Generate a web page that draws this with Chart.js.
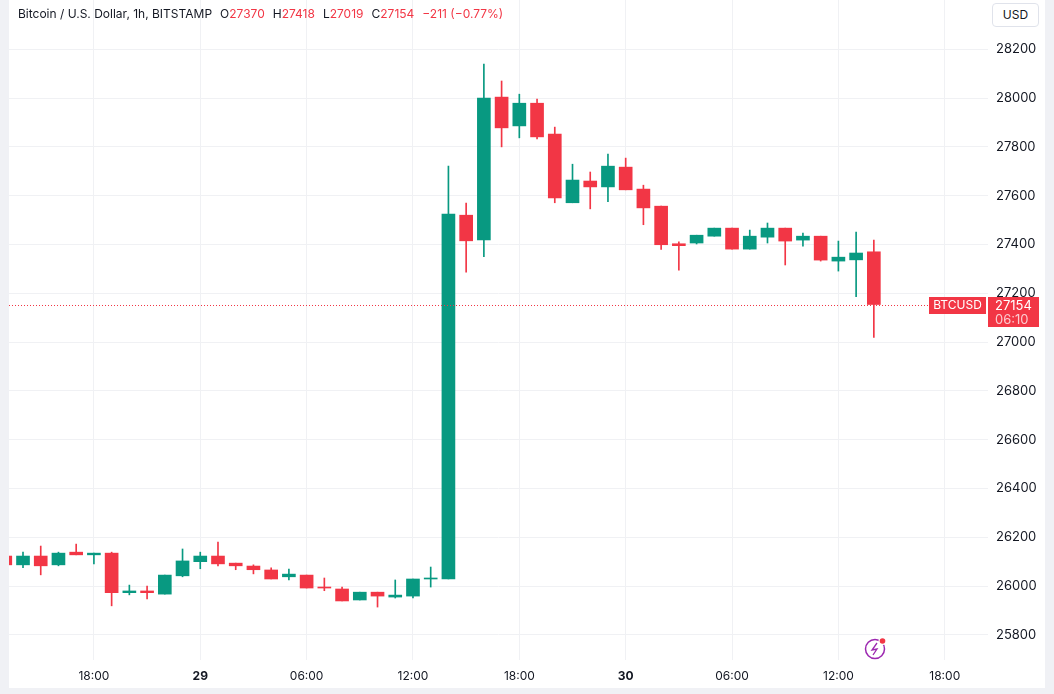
<!DOCTYPE html>
<html>
<head>
<meta charset="utf-8">
<script src="https://cdn.jsdelivr.net/npm/chart.js@4.4.1/dist/chart.umd.min.js"></script>
<style>
  html, body { margin: 0; padding: 0; }
  body { width: 1054px; height: 694px; background: #f0f1f5; position: relative; overflow: hidden; font-family: Inter, Roboto, sans-serif; }
  #panel { position: absolute; left: 9px; top: 0; width: 1036px; height: 688px; background: #fff; }
  #chart { position: absolute; left: 0; top: 0; }
  #legend { position: absolute; left: 18px; top: 6px; font-size: 12px; line-height: 16px; color: #131722; white-space: nowrap; }
  #legend .g { margin-left: 8px; }
  #legend .v { color: #f23645; }
  #usd { position: absolute; left: 992px; top: 3px; width: 47px; height: 24px; box-sizing: border-box; border: 1px solid #e0e3eb; border-radius: 4px; font-size: 12px; line-height: 22px; text-align: center; color: #131722; background: #fff; }
</style>
</head>
<body>
<div id="panel"></div>
<canvas id="chart" width="1054" height="694"></canvas>
<div id="legend">Bitcoin / U.S. Dollar, 1h, BITSTAMP<span class="g">O<span class="v">27370</span></span><span class="g">H<span class="v">27418</span></span><span class="g">L<span class="v">27019</span></span><span class="g">C<span class="v">27154</span></span><span class="g v">−211 (−0.77%)</span></div>
<div id="usd">USD</div>
<script>
// hours relative to 29 00:00
const hours  = [-11, -10, -9, -8, -7, -6, -5, -4, -3, -2, -1, 0, 1, 2, 3, 4, 5, 6, 7, 8, 9, 10, 11, 12, 13, 14, 15, 16, 17, 18, 19, 20, 21, 22, 23, 24, 25, 26, 27, 28, 29, 30, 31, 32, 33, 34, 35, 36, 37, 38];
const opens  = [26123, 26087, 26123, 26087, 26139, 26128, 26135, 25973, 25980, 25967, 26042, 26100, 26123, 26094, 26082, 26066, 26038, 26045, 25996, 25988, 25943, 25975, 25955, 25959, 26029, 26029, 27520, 27419, 28004, 27886, 27979, 27852, 27571, 27660, 27636, 27717, 27627, 27557, 27403, 27406, 27434, 27467, 27381, 27430, 27467, 27418, 27434, 27332, 27337, 27370];
const highs  = [26123, 26139, 26164, 26139, 26172, 26135, 26139, 26004, 26000, 26045, 26152, 26139, 26180, 26094, 26087, 26075, 26070, 26045, 26033, 25996, 25975, 25975, 26025, 26029, 26078, 27721, 27570, 28139, 28070, 28016, 27996, 27881, 27729, 27697, 27770, 27754, 27643, 27557, 27411, 27438, 27467, 27467, 27459, 27488, 27467, 27447, 27434, 27414, 27451, 27418];
const lows   = [26087, 26075, 26046, 26083, 26128, 26091, 25919, 25964, 25947, 25967, 26038, 26071, 26083, 26067, 26050, 26029, 26025, 25992, 25981, 25939, 25943, 25914, 25951, 25951, 25996, 26029, 27287, 27350, 27800, 27837, 27833, 27571, 27571, 27546, 27575, 27624, 27481, 27380, 27295, 27402, 27434, 27381, 27381, 27406, 27316, 27393, 27332, 27291, 27186, 27019];
const closes = [26087, 26123, 26083, 26135, 26128, 26135, 25973, 25980, 25973, 26045, 26103, 26123, 26091, 26083, 26067, 26029, 26049, 25992, 25992, 25939, 25975, 25959, 25963, 26029, 26033, 27525, 27415, 28000, 27878, 27979, 27841, 27591, 27664, 27636, 27721, 27624, 27550, 27399, 27395, 27438, 27467, 27381, 27434, 27467, 27414, 27434, 27336, 27348, 27365, 27154];

const priceTicks = [25800, 26000, 26200, 26400, 26600, 26800, 27000, 27200, 27400, 27600, 27800, 28000, 28200];
const timeTicks  = [-6, 0, 6, 12, 18, 24, 30, 36, 42];
const timeLabels = ['18:00', '29', '06:00', '12:00', '18:00', '30', '06:00', '12:00', '18:00'];
const dayLabels  = ['29', '30'];

const UP = '#089981';
const DOWN = '#f23645';
const TEXT = '#131722';
const GRID = '#f0f1f4';
const FONT = 'Inter, Roboto, sans-serif';

const candleColor = (ctx) => closes[ctx.dataIndex] >= opens[ctx.dataIndex] ? UP : DOWN;

const noPad = (s) => { s.paddingTop = 0; s.paddingBottom = 0; s.paddingLeft = 0; s.paddingRight = 0; };

const overlay = {
  id: 'overlay',
  afterDraw(chart) {
    const { ctx, chartArea, scales } = chart;
    const last = closes[closes.length - 1];
    const y = Math.round(scales.y.getPixelForValue(last));
    ctx.save();
    // last price dotted line
    ctx.strokeStyle = DOWN;
    ctx.lineWidth = 1;
    ctx.setLineDash([1, 2]);
    ctx.beginPath();
    ctx.moveTo(chartArea.left, y + 0.5);
    ctx.lineTo(chartArea.right - 60, y + 0.5);
    ctx.stroke();
    ctx.setLineDash([]);
    // symbol tag
    ctx.fillStyle = DOWN;
    ctx.fillRect(chartArea.right - 59, y - 8, 57, 17);
    ctx.fillStyle = '#fff';
    ctx.font = '12px ' + FONT;
    ctx.textBaseline = 'middle';
    ctx.textAlign = 'center';
    ctx.fillText('BTCUSD', chartArea.right - 30.5, y + 0.5);
    // price tag
    ctx.fillStyle = DOWN;
    ctx.fillRect(chartArea.right, y - 8, 51, 30);
    ctx.fillStyle = '#fff';
    ctx.font = '13px ' + FONT;
    ctx.textAlign = 'left';
    ctx.fillText(String(last), chartArea.right + 7, y + 1);
    ctx.fillStyle = 'rgba(255,255,255,0.75)';
    ctx.fillText('06:10', chartArea.right + 7, y + 15);
    // lightning badge
    const cx = 875, cy = 649;
    ctx.strokeStyle = '#9c27b0';
    ctx.lineWidth = 1.5;
    ctx.beginPath();
    ctx.arc(cx, cy, 9.5, 0, Math.PI * 2);
    ctx.stroke();
    ctx.lineWidth = 1.3;
    ctx.beginPath();
    ctx.moveTo(cx + 2, cy - 6);
    ctx.lineTo(cx - 3, cy + 1);
    ctx.lineTo(cx + 2, cy + 0);
    ctx.lineTo(cx - 2, cy + 6);
    ctx.stroke();
    ctx.fillStyle = '#fff';
    ctx.beginPath();
    ctx.arc(cx + 7.5, cy - 8, 4, 0, Math.PI * 2);
    ctx.fill();
    ctx.fillStyle = DOWN;
    ctx.beginPath();
    ctx.arc(cx + 7.5, cy - 8, 2.8, 0, Math.PI * 2);
    ctx.fill();
    ctx.restore();
  }
};

new Chart(document.getElementById('chart'), {
  type: 'bar',
  data: {
    datasets: [
      {
        label: 'wick',
        data: hours.map((h, i) => ({ x: h, y: [lows[i], highs[i]] })),
        backgroundColor: candleColor,
        barThickness: 1,
        grouped: false,
        borderWidth: 0,
        order: 2
      },
      {
        label: 'body',
        data: hours.map((h, i) => ({ x: h, y: [opens[i], closes[i]] })),
        backgroundColor: candleColor,
        barThickness: 13,
        minBarLength: 1,
        grouped: false,
        borderWidth: 0,
        order: 1
      }
    ]
  },
  options: {
    responsive: false,
    animation: false,
    layout: { padding: { left: 9, right: 9, top: 0, bottom: 6 } },
    plugins: { legend: { display: false }, tooltip: { enabled: false } },
    scales: {
      x: {
        type: 'linear',
        min: -10.79,
        max: 44.44,
        offset: false,
        afterFit: (s) => { s.height = 28; noPad(s); },
        afterBuildTicks: (s) => { s.ticks = timeTicks.map((v) => ({ value: v })); },
        grid: { color: GRID, drawTicks: false, offset: false },
        border: { display: false },
        ticks: {
          autoSkip: false,
          maxRotation: 0,
          padding: 9,
          color: TEXT,
          font: (ctx) => ({ family: FONT, size: 12, weight: dayLabels.includes(timeLabels[ctx.index]) ? 'bold' : 'normal' }),
          callback: (v, i) => timeLabels[i]
        }
      },
      y: {
        position: 'right',
        min: 25697,
        max: 28402,
        afterFit: (s) => { s.width = 57; noPad(s); },
        afterBuildTicks: (s) => { s.ticks = priceTicks.map((v) => ({ value: v })); },
        grid: { color: GRID, drawTicks: false },
        border: { display: false },
        ticks: { padding: 8, color: TEXT, font: { family: FONT, size: 13 }, callback: (v) => String(v) }
      }
    }
  },
  plugins: [overlay]
});
</script>
</body>
</html>
